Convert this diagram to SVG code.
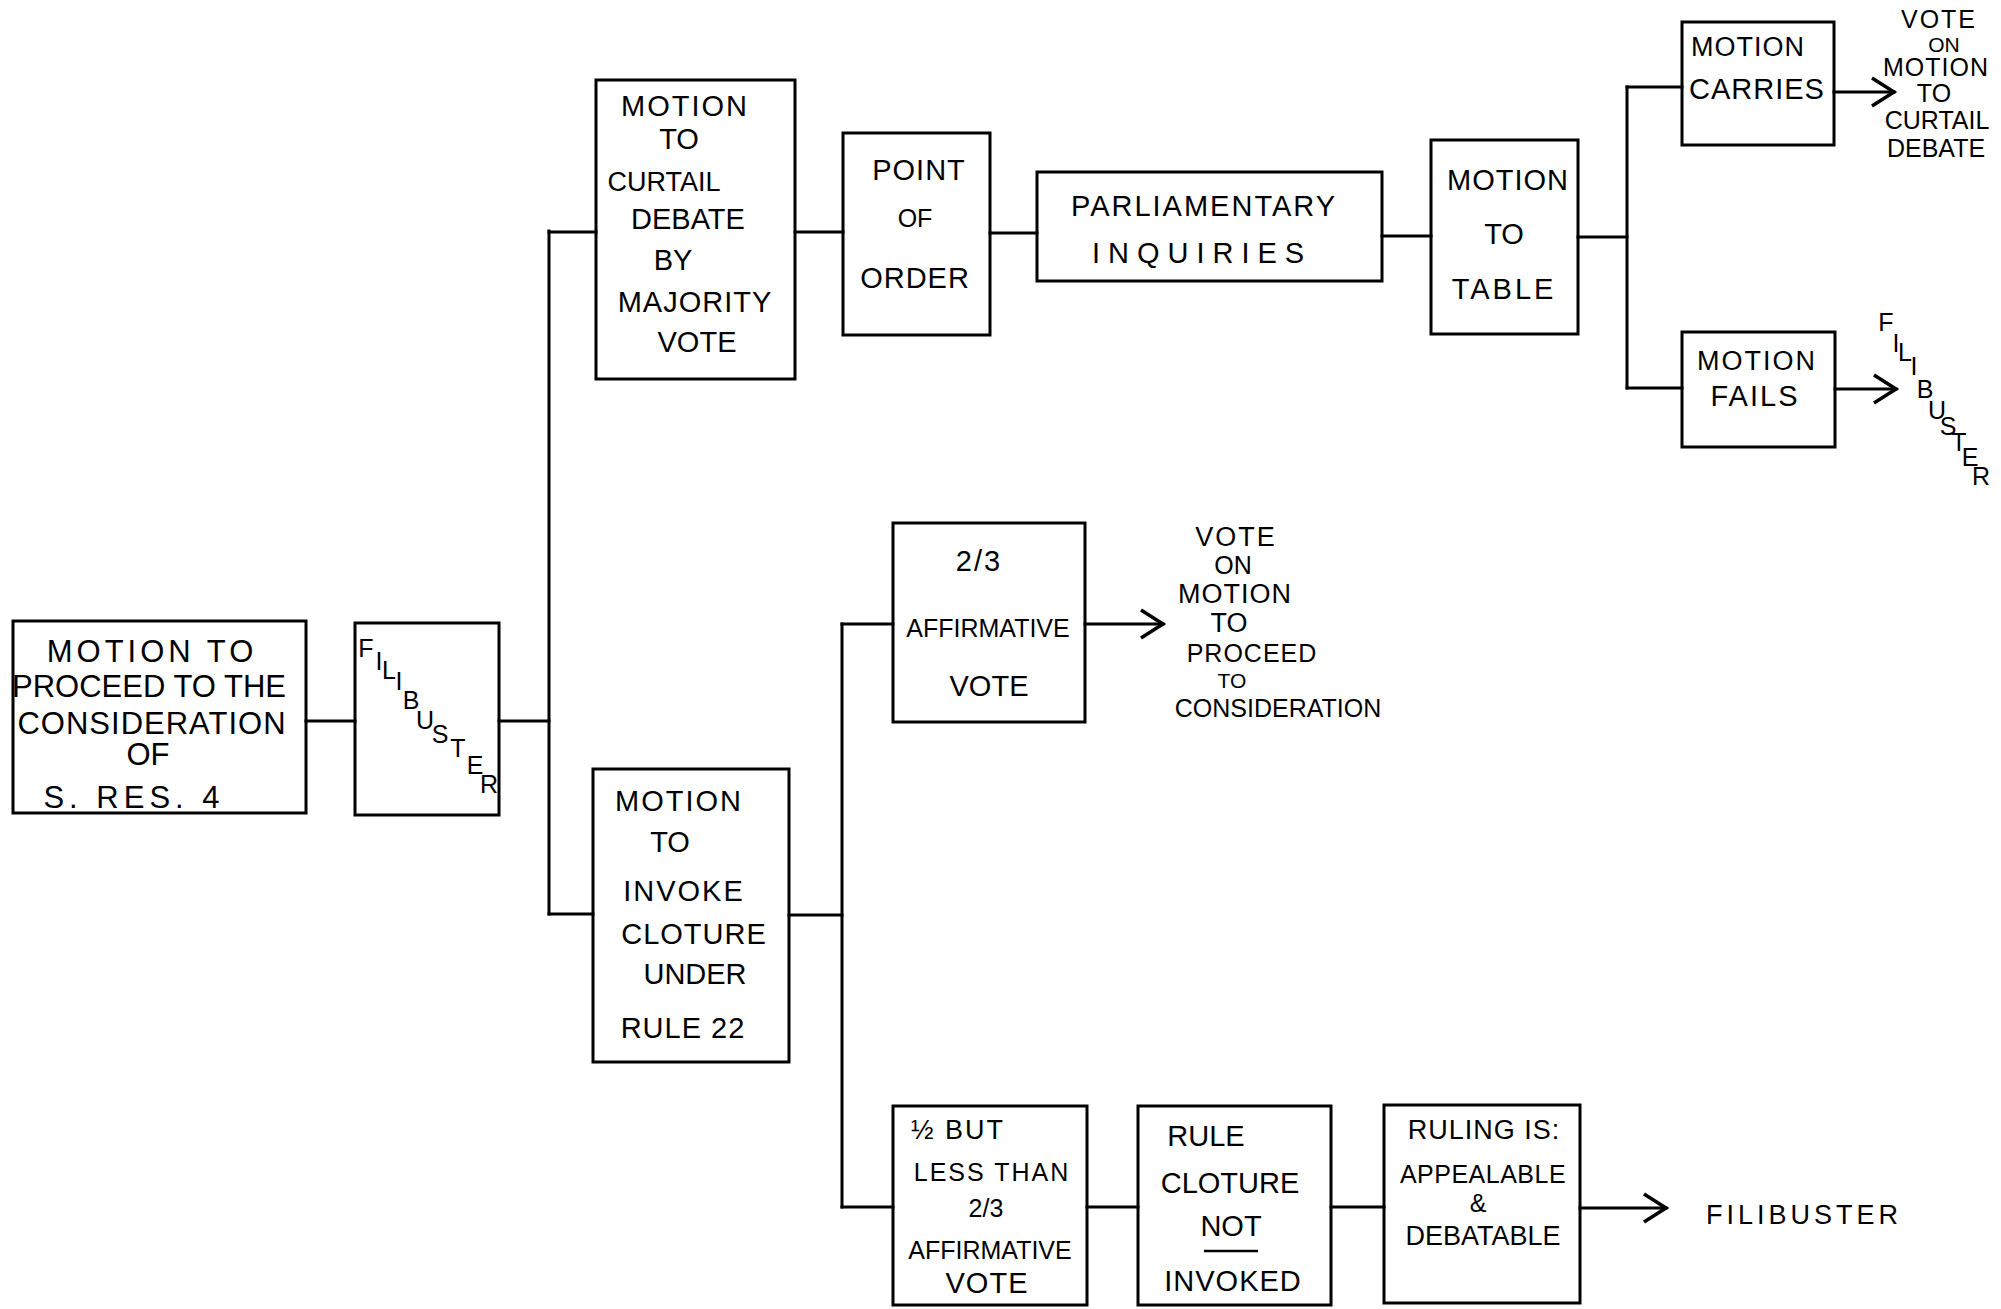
<svg xmlns="http://www.w3.org/2000/svg" width="2001" height="1309" viewBox="0 0 2001 1309">
<style>
.bg{fill:#fff}
.box{fill:none;stroke:#000;stroke-width:3}
.ln{fill:none;stroke:#000;stroke-width:3;stroke-linecap:square}
.t{font-family:"Liberation Sans",Arial,sans-serif;font-size:29px;fill:#000;text-anchor:middle;dominant-baseline:central}
.x{font-size:21px}
.s{font-size:25px}
.m{font-size:27px}
.l{font-size:31px}
</style>
<defs>
<marker id="chev" markerUnits="userSpaceOnUse" markerWidth="30" markerHeight="36" refX="24" refY="16" orient="auto" viewBox="0 0 30 36">
<path d="M2,2 L24,16 L2,30" fill="none" stroke="#000" stroke-width="3.5" stroke-linejoin="miter"/>
</marker>
</defs>
<rect class="bg" x="0" y="0" width="2001" height="1309"/>

<g id="connectors">
<line class="ln" x1="306" y1="721" x2="355" y2="721"/>
<line class="ln" x1="499" y1="721" x2="549" y2="721"/>
<line class="ln" x1="549" y1="231" x2="549" y2="914"/>
<line class="ln" x1="549" y1="232" x2="596" y2="232"/>
<line class="ln" x1="795" y1="232" x2="843" y2="232"/>
<line class="ln" x1="990" y1="233" x2="1037" y2="233"/>
<line class="ln" x1="1382" y1="236" x2="1431" y2="236"/>
<line class="ln" x1="1578" y1="237" x2="1627" y2="237"/>
<line class="ln" x1="1627" y1="87" x2="1627" y2="388"/>
<line class="ln" x1="1627" y1="87" x2="1682" y2="87"/>
<line class="ln" x1="1627" y1="388" x2="1682" y2="388"/>
<line class="ln" x1="1834" y1="92" x2="1894" y2="92" marker-end="url(#chev)"/>
<line class="ln" x1="1835" y1="389" x2="1896" y2="389" marker-end="url(#chev)"/>
<line class="ln" x1="549" y1="914" x2="593" y2="914"/>
<line class="ln" x1="789" y1="915" x2="842" y2="915"/>
<line class="ln" x1="842" y1="624" x2="842" y2="1207"/>
<line class="ln" x1="842" y1="624" x2="893" y2="624"/>
<line class="ln" x1="1085" y1="624" x2="1163" y2="624" marker-end="url(#chev)"/>
<line class="ln" x1="842" y1="1207" x2="893" y2="1207"/>
<line class="ln" x1="1087" y1="1207" x2="1138" y2="1207"/>
<line class="ln" x1="1331" y1="1207" x2="1384" y2="1207"/>
<line class="ln" x1="1580" y1="1208" x2="1666" y2="1208" marker-end="url(#chev)"/>
</g>

<g id="n-proceed">
<rect class="box" x="13" y="621" width="293" height="192"/>
<text class="t l" x="152" y="651" letter-spacing="4">MOTION  TO</text>
<text class="t l" x="149" y="686">PROCEED TO THE</text>
<text class="t l" x="152" y="723" letter-spacing="1">CONSIDERATION</text>
<text class="t l" x="148" y="754">OF</text>
<text class="t l" x="134" y="797" letter-spacing="5">S. RES. 4</text>
</g>

<g id="n-filibuster">
<rect class="box" x="355" y="623" width="144" height="192"/>
<text class="t s" x="366 379 389 399 411 425 440 458 475 489" y="648 661 670 681 700 720 734 748 765 784">FILIBUSTER</text>
</g>

<g id="n-curtail">
<rect class="box" x="596" y="80" width="199" height="299"/>
<text class="t" x="685" y="106" letter-spacing="2">MOTION</text>
<text class="t" x="679" y="139">TO</text>
<text class="t m" x="664" y="182">CURTAIL</text>
<text class="t" x="688" y="219">DEBATE</text>
<text class="t" x="673" y="260">BY</text>
<text class="t" x="695" y="302" letter-spacing="1">MAJORITY</text>
<text class="t" x="697" y="342">VOTE</text>
</g>

<g id="n-point">
<rect class="box" x="843" y="133" width="147" height="202"/>
<text class="t" x="919" y="170" letter-spacing="1">POINT</text>
<text class="t s" x="915" y="218">OF</text>
<text class="t" x="915" y="278" letter-spacing="1">ORDER</text>
</g>

<g id="n-parl">
<rect class="box" x="1037" y="172" width="345" height="109"/>
<text class="t" x="1204" y="206" letter-spacing="2">PARLIAMENTARY</text>
<text class="t" x="1202" y="253" letter-spacing="8">INQUIRIES</text>
</g>

<g id="n-table">
<rect class="box" x="1431" y="140" width="147" height="194"/>
<text class="t" x="1508" y="180" letter-spacing="1">MOTION</text>
<text class="t" x="1504" y="234">TO</text>
<text class="t" x="1504" y="289" letter-spacing="3">TABLE</text>
</g>

<g id="n-carries">
<rect class="box" x="1682" y="22" width="152" height="123"/>
<text class="t m" x="1748" y="47" letter-spacing="1">MOTION</text>
<text class="t" x="1757" y="89" letter-spacing="1">CARRIES</text>
</g>

<g id="n-fails">
<rect class="box" x="1682" y="332" width="153" height="115"/>
<text class="t m" x="1757" y="361" letter-spacing="2">MOTION</text>
<text class="t" x="1755" y="396" letter-spacing="2">FAILS</text>
</g>

<g id="t-vote-curtail">
<text class="t s" x="1939" y="19" letter-spacing="2">VOTE</text>
<text class="t x" x="1944" y="44">ON</text>
<text class="t s" x="1936" y="67" letter-spacing="1">MOTION</text>
<text class="t s" x="1934" y="93">TO</text>
<text class="t s" x="1937" y="120">CURTAIL</text>
<text class="t s" x="1936" y="148">DEBATE</text>
</g>

<g id="t-filibuster-right">
<text class="t s" x="1886 1896 1905 1914 1925 1937 1948 1959 1970 1981" y="322 343 352 366 389 410 426 442 457 476">FILIBUSTER</text>
</g>

<g id="n-invoke">
<rect class="box" x="593" y="769" width="196" height="293"/>
<text class="t" x="679" y="801" letter-spacing="2">MOTION</text>
<text class="t" x="670" y="842">TO</text>
<text class="t" x="684" y="891" letter-spacing="2">INVOKE</text>
<text class="t" x="694" y="934" letter-spacing="1">CLOTURE</text>
<text class="t" x="695" y="974">UNDER</text>
<text class="t" x="683" y="1028" letter-spacing="1">RULE  22</text>
</g>

<g id="n-twothirds">
<rect class="box" x="893" y="523" width="192" height="199"/>
<text class="t" x="979" y="561" letter-spacing="2">2/3</text>
<text class="t s" x="988" y="628">AFFIRMATIVE</text>
<text class="t" x="989" y="686">VOTE</text>
</g>

<g id="t-vote-proceed">
<text class="t m" x="1236" y="537" letter-spacing="2">VOTE</text>
<text class="t s" x="1233" y="565">ON</text>
<text class="t m" x="1235" y="594" letter-spacing="1">MOTION</text>
<text class="t m" x="1229" y="623">TO</text>
<text class="t s" x="1252" y="653" letter-spacing="1">PROCEED</text>
<text class="t x" x="1232" y="680">TO</text>
<text class="t s" x="1278" y="708">CONSIDERATION</text>
</g>

<g id="n-half">
<rect class="box" x="893" y="1106" width="194" height="199"/>
<text class="t m" x="958" y="1130" letter-spacing="2">½ BUT</text>
<text class="t s" x="992" y="1172" letter-spacing="2">LESS THAN</text>
<text class="t s" x="986" y="1208">2/3</text>
<text class="t s" x="990" y="1250">AFFIRMATIVE</text>
<text class="t" x="987" y="1283" letter-spacing="1">VOTE</text>
</g>

<g id="n-notinvoked">
<rect class="box" x="1138" y="1106" width="193" height="199"/>
<text class="t" x="1206" y="1136">RULE</text>
<text class="t" x="1230" y="1183">CLOTURE</text>
<text class="t" x="1231" y="1226">NOT</text>
<line x1="1204" y1="1251" x2="1258" y2="1251" stroke="#000" stroke-width="2.5"/>
<text class="t" x="1233" y="1281" letter-spacing="1">INVOKED</text>
</g>

<g id="n-ruling">
<rect class="box" x="1384" y="1105" width="196" height="198"/>
<text class="t m" x="1484" y="1130" letter-spacing="1">RULING IS:</text>
<text class="t s" x="1483" y="1174" letter-spacing="0.5">APPEALABLE</text>
<text class="t s" x="1478" y="1203">&amp;</text>
<text class="t m" x="1483" y="1236">DEBATABLE</text>
</g>

<g id="t-filibuster-bottom">
<text class="t m" x="1804" y="1215" letter-spacing="4">FILIBUSTER</text>
</g>
</svg>
